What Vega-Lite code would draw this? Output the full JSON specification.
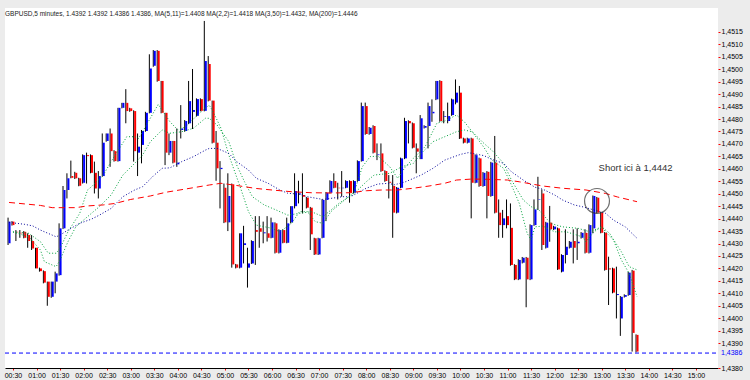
{
"$schema": "https://vega.github.io/schema/vega-lite/v6.json",
"width": 713, "height": 360,
"autosize": {"type": "none"},
"padding": {"left": 5, "top": 8, "right": 32, "bottom": 12},
"background": "#ececec",
"view": {"fill": "#ffffff", "stroke": null},
"config": {"font": "Liberation Sans"},
"title": {"text": "GBPUSD,5 minutes, 1.4392 1.4392 1.4386 1.4386, MA(5,11)=1.4408 MA(2,2)=1.4418 MA(3,50)=1.4432, MA(200)=1.4446", "anchor": "start", "frame": "group", "fontSize": 6.5, "fontWeight": "normal", "color": "#222222", "offset": -9},
"data": {"values": [
{"t":"2010-01-13T00:25","o":1.44301,"h":1.44404,"l":1.44294,"c":1.44388},
{"t":"2010-01-13T00:30","o":1.44388,"h":1.44390,"l":1.44372,"c":1.44374},
{"t":"2010-01-13T00:35","o":1.44347,"h":1.44354,"l":1.44310,"c":1.44345},
{"t":"2010-01-13T00:40","o":1.44343,"h":1.44354,"l":1.44323,"c":1.44341},
{"t":"2010-01-13T00:45","o":1.44347,"h":1.44350,"l":1.44321,"c":1.44323},
{"t":"2010-01-13T00:50","o":1.44334,"h":1.44341,"l":1.44283,"c":1.44310},
{"t":"2010-01-13T00:55","o":1.44310,"h":1.44334,"l":1.44274,"c":1.44280},
{"t":"2010-01-13T01:00","o":1.44283,"h":1.44283,"l":1.44200,"c":1.44200},
{"t":"2010-01-13T01:05","o":1.44200,"h":1.44203,"l":1.44187,"c":1.44189},
{"t":"2010-01-13T01:10","o":1.44189,"h":1.44192,"l":1.44140,"c":1.44143},
{"t":"2010-01-13T01:15","o":1.44147,"h":1.44147,"l":1.44050,"c":1.44086},
{"t":"2010-01-13T01:20","o":1.44086,"h":1.44147,"l":1.44082,"c":1.44147},
{"t":"2010-01-13T01:25","o":1.44147,"h":1.44187,"l":1.44100,"c":1.44180},
{"t":"2010-01-13T01:30","o":1.44173,"h":1.44381,"l":1.44171,"c":1.44361},
{"t":"2010-01-13T01:35","o":1.44361,"h":1.44531,"l":1.44358,"c":1.44515},
{"t":"2010-01-13T01:40","o":1.44515,"h":1.44582,"l":1.44481,"c":1.44562},
{"t":"2010-01-13T01:45","o":1.44571,"h":1.44633,"l":1.44562,"c":1.44564},
{"t":"2010-01-13T01:50","o":1.44584,"h":1.44588,"l":1.44559,"c":1.44562},
{"t":"2010-01-13T01:55","o":1.44562,"h":1.44564,"l":1.44530,"c":1.44532},
{"t":"2010-01-13T02:00","o":1.44544,"h":1.44658,"l":1.44541,"c":1.44655},
{"t":"2010-01-13T02:05","o":1.44655,"h":1.44665,"l":1.44541,"c":1.44651},
{"t":"2010-01-13T02:10","o":1.44655,"h":1.44658,"l":1.44582,"c":1.44584},
{"t":"2010-01-13T02:15","o":1.44584,"h":1.44629,"l":1.44501,"c":1.44521},
{"t":"2010-01-13T02:20","o":1.44521,"h":1.44591,"l":1.44481,"c":1.44571},
{"t":"2010-01-13T02:25","o":1.44571,"h":1.44742,"l":1.44568,"c":1.44705},
{"t":"2010-01-13T02:30","o":1.44712,"h":1.44742,"l":1.44709,"c":1.44742},
{"t":"2010-01-13T02:35","o":1.44742,"h":1.44762,"l":1.44608,"c":1.44671},
{"t":"2010-01-13T02:40","o":1.44671,"h":1.44675,"l":1.44629,"c":1.44631},
{"t":"2010-01-13T02:45","o":1.44631,"h":1.44845,"l":1.44629,"c":1.44845},
{"t":"2010-01-13T02:50","o":1.44845,"h":1.44865,"l":1.44843,"c":1.44865},
{"t":"2010-01-13T02:55","o":1.44865,"h":1.44920,"l":1.44783,"c":1.44832},
{"t":"2010-01-13T03:00","o":1.44843,"h":1.44845,"l":1.44829,"c":1.44832},
{"t":"2010-01-13T03:05","o":1.44832,"h":1.44835,"l":1.44629,"c":1.44671},
{"t":"2010-01-13T03:10","o":1.44665,"h":1.44742,"l":1.44571,"c":1.44689},
{"t":"2010-01-13T03:15","o":1.44696,"h":1.44756,"l":1.44622,"c":1.44752},
{"t":"2010-01-13T03:20","o":1.44752,"h":1.44829,"l":1.44749,"c":1.44825},
{"t":"2010-01-13T03:25","o":1.44825,"h":1.45060,"l":1.44823,"c":1.45003},
{"t":"2010-01-13T03:30","o":1.45014,"h":1.45077,"l":1.45010,"c":1.45074},
{"t":"2010-01-13T03:35","o":1.45074,"h":1.45077,"l":1.44950,"c":1.44953},
{"t":"2010-01-13T03:40","o":1.44953,"h":1.44953,"l":1.44823,"c":1.44825},
{"t":"2010-01-13T03:45","o":1.44825,"h":1.44825,"l":1.44615,"c":1.44665},
{"t":"2010-01-13T03:50","o":1.44665,"h":1.44742,"l":1.44655,"c":1.44712},
{"t":"2010-01-13T03:55","o":1.44712,"h":1.44712,"l":1.44622,"c":1.44625},
{"t":"2010-01-13T04:00","o":1.44618,"h":1.44762,"l":1.44608,"c":1.44625},
{"t":"2010-01-13T04:05","o":1.44756,"h":1.44856,"l":1.44722,"c":1.44762},
{"t":"2010-01-13T04:10","o":1.44752,"h":1.44796,"l":1.44749,"c":1.44792},
{"t":"2010-01-13T04:15","o":1.44783,"h":1.44953,"l":1.44780,"c":1.44872},
{"t":"2010-01-13T04:20","o":1.44829,"h":1.45001,"l":1.44760,"c":1.44836},
{"t":"2010-01-13T04:25","o":1.44813,"h":1.44883,"l":1.44810,"c":1.44880},
{"t":"2010-01-13T04:30","o":1.44880,"h":1.44883,"l":1.44831,"c":1.44833},
{"t":"2010-01-13T04:35","o":1.44833,"h":1.45194,"l":1.44831,"c":1.45033},
{"t":"2010-01-13T04:40","o":1.45021,"h":1.45053,"l":1.44871,"c":1.44874},
{"t":"2010-01-13T04:45","o":1.44874,"h":1.44874,"l":1.44702,"c":1.44705},
{"t":"2010-01-13T04:50","o":1.44705,"h":1.44752,"l":1.44552,"c":1.44602},
{"t":"2010-01-13T04:55","o":1.44599,"h":1.44631,"l":1.44441,"c":1.44604},
{"t":"2010-01-13T05:00","o":1.44524,"h":1.44541,"l":1.44382,"c":1.44385},
{"t":"2010-01-13T05:05","o":1.44385,"h":1.44582,"l":1.44350,"c":1.44491},
{"t":"2010-01-13T05:10","o":1.44538,"h":1.44541,"l":1.44203,"c":1.44216},
{"t":"2010-01-13T05:15","o":1.44216,"h":1.44218,"l":1.44200,"c":1.44203},
{"t":"2010-01-13T05:20","o":1.44203,"h":1.44341,"l":1.44200,"c":1.44341},
{"t":"2010-01-13T05:25","o":1.44294,"h":1.44371,"l":1.44220,"c":1.44301},
{"t":"2010-01-13T05:30","o":1.44203,"h":1.44283,"l":1.44123,"c":1.44220},
{"t":"2010-01-13T05:35","o":1.44220,"h":1.44313,"l":1.44218,"c":1.44310},
{"t":"2010-01-13T05:40","o":1.44354,"h":1.44410,"l":1.44214,"c":1.44347},
{"t":"2010-01-13T05:45","o":1.44361,"h":1.44410,"l":1.44283,"c":1.44347},
{"t":"2010-01-13T05:50","o":1.44341,"h":1.44388,"l":1.44301,"c":1.44345},
{"t":"2010-01-13T05:55","o":1.44341,"h":1.44410,"l":1.44308,"c":1.44323},
{"t":"2010-01-13T06:00","o":1.44323,"h":1.44404,"l":1.44321,"c":1.44385},
{"t":"2010-01-13T06:05","o":1.44381,"h":1.44385,"l":1.44260,"c":1.44263},
{"t":"2010-01-13T06:10","o":1.44263,"h":1.44357,"l":1.44260,"c":1.44354},
{"t":"2010-01-13T06:15","o":1.44354,"h":1.44357,"l":1.44301,"c":1.44303},
{"t":"2010-01-13T06:20","o":1.44303,"h":1.44404,"l":1.44301,"c":1.44381},
{"t":"2010-01-13T06:25","o":1.44385,"h":1.44450,"l":1.44381,"c":1.44450},
{"t":"2010-01-13T06:30","o":1.44450,"h":1.44582,"l":1.44441,"c":1.44511},
{"t":"2010-01-13T06:35","o":1.44497,"h":1.44552,"l":1.44461,"c":1.44501},
{"t":"2010-01-13T06:40","o":1.44495,"h":1.44582,"l":1.44421,"c":1.44488},
{"t":"2010-01-13T06:45","o":1.44484,"h":1.44487,"l":1.44441,"c":1.44444},
{"t":"2010-01-13T06:50","o":1.44444,"h":1.44447,"l":1.44274,"c":1.44337},
{"t":"2010-01-13T06:55","o":1.44321,"h":1.44323,"l":1.44254,"c":1.44256},
{"t":"2010-01-13T07:00","o":1.44256,"h":1.44323,"l":1.44254,"c":1.44321},
{"t":"2010-01-13T07:05","o":1.44323,"h":1.44478,"l":1.44321,"c":1.44475},
{"t":"2010-01-13T07:10","o":1.44475,"h":1.44507,"l":1.44390,"c":1.44504},
{"t":"2010-01-13T07:15","o":1.44504,"h":1.44554,"l":1.44501,"c":1.44551},
{"t":"2010-01-13T07:20","o":1.44551,"h":1.44582,"l":1.44522,"c":1.44524},
{"t":"2010-01-13T07:25","o":1.44524,"h":1.44544,"l":1.44477,"c":1.44522},
{"t":"2010-01-13T07:30","o":1.44522,"h":1.44591,"l":1.44488,"c":1.44524},
{"t":"2010-01-13T07:35","o":1.44524,"h":1.44554,"l":1.44522,"c":1.44551},
{"t":"2010-01-13T07:40","o":1.44551,"h":1.44554,"l":1.44464,"c":1.44504},
{"t":"2010-01-13T07:45","o":1.44504,"h":1.44554,"l":1.44501,"c":1.44551},
{"t":"2010-01-13T07:50","o":1.44551,"h":1.44634,"l":1.44548,"c":1.44631},
{"t":"2010-01-13T07:55","o":1.44631,"h":1.44866,"l":1.44629,"c":1.44852},
{"t":"2010-01-13T08:00","o":1.44852,"h":1.44866,"l":1.44737,"c":1.44740},
{"t":"2010-01-13T08:05","o":1.44740,"h":1.44768,"l":1.44737,"c":1.44765},
{"t":"2010-01-13T08:10","o":1.44772,"h":1.44775,"l":1.44662,"c":1.44665},
{"t":"2010-01-13T08:15","o":1.44655,"h":1.44702,"l":1.44635,"c":1.44658},
{"t":"2010-01-13T08:20","o":1.44662,"h":1.44702,"l":1.44588,"c":1.44591},
{"t":"2010-01-13T08:25","o":1.44591,"h":1.44594,"l":1.44548,"c":1.44551},
{"t":"2010-01-13T08:30","o":1.44548,"h":1.44575,"l":1.44481,"c":1.44544},
{"t":"2010-01-13T08:35","o":1.44531,"h":1.44575,"l":1.44323,"c":1.44424},
{"t":"2010-01-13T08:40","o":1.44424,"h":1.44527,"l":1.44421,"c":1.44524},
{"t":"2010-01-13T08:45","o":1.44524,"h":1.44645,"l":1.44522,"c":1.44642},
{"t":"2010-01-13T08:50","o":1.44642,"h":1.44805,"l":1.44639,"c":1.44792},
{"t":"2010-01-13T08:55","o":1.44792,"h":1.44795,"l":1.44702,"c":1.44783},
{"t":"2010-01-13T09:00","o":1.44783,"h":1.44786,"l":1.44682,"c":1.44685},
{"t":"2010-01-13T09:05","o":1.44682,"h":1.44702,"l":1.44582,"c":1.44669},
{"t":"2010-01-13T09:10","o":1.44639,"h":1.44816,"l":1.44639,"c":1.44803},
{"t":"2010-01-13T09:15","o":1.44765,"h":1.44775,"l":1.44762,"c":1.44772},
{"t":"2010-01-13T09:20","o":1.44772,"h":1.44866,"l":1.44682,"c":1.44852},
{"t":"2010-01-13T09:25","o":1.44823,"h":1.44879,"l":1.44789,"c":1.44829},
{"t":"2010-01-13T09:30","o":1.44879,"h":1.44953,"l":1.44876,"c":1.44953},
{"t":"2010-01-13T09:35","o":1.44953,"h":1.44956,"l":1.44789,"c":1.44792},
{"t":"2010-01-13T09:40","o":1.44809,"h":1.44832,"l":1.44783,"c":1.44812},
{"t":"2010-01-13T09:45","o":1.44792,"h":1.44866,"l":1.44783,"c":1.44812},
{"t":"2010-01-13T09:50","o":1.44816,"h":1.44882,"l":1.44813,"c":1.44879},
{"t":"2010-01-13T09:55","o":1.44866,"h":1.44959,"l":1.44859,"c":1.44906},
{"t":"2010-01-13T10:00","o":1.44906,"h":1.44933,"l":1.44720,"c":1.44722},
{"t":"2010-01-13T10:05","o":1.44722,"h":1.44725,"l":1.44702,"c":1.44705},
{"t":"2010-01-13T10:10","o":1.44705,"h":1.44725,"l":1.44702,"c":1.44722},
{"t":"2010-01-13T10:15","o":1.44722,"h":1.44725,"l":1.44401,"c":1.44544},
{"t":"2010-01-13T10:20","o":1.44544,"h":1.44658,"l":1.44542,"c":1.44655},
{"t":"2010-01-13T10:25","o":1.44642,"h":1.44645,"l":1.44528,"c":1.44531},
{"t":"2010-01-13T10:30","o":1.44531,"h":1.44587,"l":1.44528,"c":1.44584},
{"t":"2010-01-13T10:35","o":1.44588,"h":1.44591,"l":1.44401,"c":1.44491},
{"t":"2010-01-13T10:40","o":1.44491,"h":1.44628,"l":1.44488,"c":1.44625},
{"t":"2010-01-13T10:45","o":1.44625,"h":1.44732,"l":1.44421,"c":1.44424},
{"t":"2010-01-13T10:50","o":1.44424,"h":1.44477,"l":1.44323,"c":1.44374},
{"t":"2010-01-13T10:55","o":1.44374,"h":1.44435,"l":1.44323,"c":1.44401},
{"t":"2010-01-13T11:00","o":1.44410,"h":1.44477,"l":1.44361,"c":1.44374},
{"t":"2010-01-13T11:05","o":1.44363,"h":1.44461,"l":1.44211,"c":1.44214},
{"t":"2010-01-13T11:10","o":1.44214,"h":1.44217,"l":1.44153,"c":1.44156},
{"t":"2010-01-13T11:15","o":1.44156,"h":1.44237,"l":1.44153,"c":1.44234},
{"t":"2010-01-13T11:20","o":1.44223,"h":1.44246,"l":1.44220,"c":1.44243},
{"t":"2010-01-13T11:25","o":1.44243,"h":1.44246,"l":1.44044,"c":1.44156},
{"t":"2010-01-13T11:30","o":1.44156,"h":1.44377,"l":1.44153,"c":1.44374},
{"t":"2010-01-13T11:35","o":1.44374,"h":1.44477,"l":1.44371,"c":1.44437},
{"t":"2010-01-13T11:40","o":1.44475,"h":1.44568,"l":1.44435,"c":1.44477},
{"t":"2010-01-13T11:45","o":1.44501,"h":1.44517,"l":1.44274,"c":1.44294},
{"t":"2010-01-13T11:50","o":1.44283,"h":1.44387,"l":1.44280,"c":1.44384},
{"t":"2010-01-13T11:55","o":1.44384,"h":1.44451,"l":1.44307,"c":1.44357},
{"t":"2010-01-13T12:00","o":1.44357,"h":1.44371,"l":1.44354,"c":1.44368},
{"t":"2010-01-13T12:05","o":1.44361,"h":1.44364,"l":1.44194,"c":1.44196},
{"t":"2010-01-13T12:10","o":1.44187,"h":1.44257,"l":1.44184,"c":1.44254},
{"t":"2010-01-13T12:15","o":1.44254,"h":1.44357,"l":1.44220,"c":1.44287},
{"t":"2010-01-13T12:20","o":1.44283,"h":1.44310,"l":1.44280,"c":1.44307},
{"t":"2010-01-13T12:25","o":1.44310,"h":1.44357,"l":1.44220,"c":1.44283},
{"t":"2010-01-13T12:30","o":1.44301,"h":1.44361,"l":1.44234,"c":1.44307},
{"t":"2010-01-13T12:35","o":1.44323,"h":1.44346,"l":1.44320,"c":1.44343},
{"t":"2010-01-13T12:40","o":1.44343,"h":1.44357,"l":1.44260,"c":1.44263},
{"t":"2010-01-13T12:45","o":1.44263,"h":1.44377,"l":1.44260,"c":1.44374},
{"t":"2010-01-13T12:50","o":1.44361,"h":1.44493,"l":1.44341,"c":1.44491},
{"t":"2010-01-13T12:55","o":1.44484,"h":1.44487,"l":1.44421,"c":1.44424},
{"t":"2010-01-13T13:00","o":1.44424,"h":1.44427,"l":1.44341,"c":1.44343},
{"t":"2010-01-13T13:05","o":1.44343,"h":1.44346,"l":1.44191,"c":1.44194},
{"t":"2010-01-13T13:10","o":1.44200,"h":1.44247,"l":1.44053,"c":1.44196},
{"t":"2010-01-13T13:15","o":1.44200,"h":1.44203,"l":1.44100,"c":1.44103},
{"t":"2010-01-13T13:20","o":1.44093,"h":1.44207,"l":1.43999,"c":1.44097},
{"t":"2010-01-13T13:25","o":1.43999,"h":1.44089,"l":1.43929,"c":1.44086},
{"t":"2010-01-13T13:30","o":1.44086,"h":1.44096,"l":1.44083,"c":1.44093},
{"t":"2010-01-13T13:35","o":1.44093,"h":1.44186,"l":1.44090,"c":1.44183},
{"t":"2010-01-13T13:40","o":1.44191,"h":1.44194,"l":1.43866,"c":1.43941},
{"t":"2010-01-13T13:45","o":1.43933,"h":1.43935,"l":1.43863,"c":1.43866}
]},
"encoding": {
  "x": {"field": "t", "type": "temporal", "scale": {"nice": false, "padding": 0},
    "axis": {"format": "%H:%M", "tickCount": 30, "labelFontSize": 7, "labelColor": "#000000", "tickColor": "#ff0000", "tickSize": 2, "domainColor": "#000000", "grid": false, "title": null, "labelPadding": 1, "labelOverlap": false, "labelFlush": false}}
},
"layer": [
  {"mark": {"type": "rule", "color": "#000000", "strokeWidth": 1, "xOffset": -1},
   "encoding": {
     "y": {"field": "l", "type": "quantitative", "scale": {"domain": [1.438, 1.45246], "zero": false, "nice": false},
       "axis": {"orient": "right", "values": [1.438,1.439,1.4395,1.44,1.4405,1.441,1.4415,1.442,1.4425,1.443,1.4435,1.444,1.4445,1.445,1.4455,1.446,1.4465,1.447,1.4475,1.448,1.4485,1.449,1.4495,1.45,1.4505,1.451,1.4515], "labelExpr": "replace(format(datum.value, '.4f'), '.', ',')", "labelFontSize": 7, "tickColor": "#ff0000", "tickSize": 2, "domain": false, "grid": false, "title": null, "labelPadding": 1, "labelOverlap": false}},
     "y2": {"field": "h"}}},
  {"mark": {"type": "bar", "width": 2, "xOffset": 0.5},
   "encoding": {
     "y": {"field": "o", "type": "quantitative", "scale": {"domain": [1.438, 1.45246], "zero": false, "nice": false},
       "axis": {"orient": "right", "values": [1.438,1.439,1.4395,1.44,1.4405,1.441,1.4415,1.442,1.4425,1.443,1.4435,1.444,1.4445,1.445,1.4455,1.446,1.4465,1.447,1.4475,1.448,1.4485,1.449,1.4495,1.45,1.4505,1.451,1.4515], "labelExpr": "replace(format(datum.value, '.4f'), '.', ',')", "labelFontSize": 7, "tickColor": "#ff0000", "tickSize": 2, "domain": false, "grid": false, "title": null, "labelPadding": 1, "labelOverlap": false}},
     "y2": {"field": "c"},
     "color": {"condition": {"test": "datum.c >= datum.o", "value": "#0000ff"}, "value": "#ff0000"}}},
  {"data": {"values": [
    {"t":"2010-01-13T00:30","v":1.44347},{"t":"2010-01-13T00:50","v":1.44341},{"t":"2010-01-13T01:05","v":1.44307},{"t":"2010-01-13T01:15","v":1.44261},{"t":"2010-01-13T01:25","v":1.44261},{"t":"2010-01-13T01:30","v":1.44281},{"t":"2010-01-13T01:40","v":1.44347},{"t":"2010-01-13T01:55","v":1.44421},{"t":"2010-01-13T02:05","v":1.44515},{"t":"2010-01-13T02:10","v":1.44528},{"t":"2010-01-13T02:25","v":1.44575},{"t":"2010-01-13T02:35","v":1.44629},{"t":"2010-01-13T02:55","v":1.44729},{"t":"2010-01-13T03:05","v":1.44729},{"t":"2010-01-13T03:10","v":1.44722},{"t":"2010-01-13T03:20","v":1.44776},{"t":"2010-01-13T03:35","v":1.44859},{"t":"2010-01-13T03:50","v":1.44789},{"t":"2010-01-13T04:00","v":1.44756},{"t":"2010-01-13T04:10","v":1.44769},{"t":"2010-01-13T04:25","v":1.44816},{"t":"2010-01-13T04:40","v":1.44856},{"t":"2010-01-13T04:45","v":1.44829},{"t":"2010-01-13T04:55","v":1.44763},{"t":"2010-01-13T05:05","v":1.44655},{"t":"2010-01-13T05:20","v":1.44522},{"t":"2010-01-13T05:30","v":1.44428},{"t":"2010-01-13T05:40","v":1.44374},{"t":"2010-01-13T06:00","v":1.44361},{"t":"2010-01-13T06:10","v":1.44347},{"t":"2010-01-13T06:25","v":1.44381},{"t":"2010-01-13T06:35","v":1.44428},{"t":"2010-01-13T06:45","v":1.44428},{"t":"2010-01-13T06:55","v":1.44388},{"t":"2010-01-13T07:05","v":1.44381},{"t":"2010-01-13T07:15","v":1.44428},{"t":"2010-01-13T07:30","v":1.44468},{"t":"2010-01-13T07:45","v":1.44508},{"t":"2010-01-13T07:55","v":1.44608},{"t":"2010-01-13T08:05","v":1.44649},{"t":"2010-01-13T08:15","v":1.44651},{"t":"2010-01-13T08:30","v":1.44608},{"t":"2010-01-13T08:40","v":1.44562},{"t":"2010-01-13T08:50","v":1.44608},{"t":"2010-01-13T09:00","v":1.44642},{"t":"2010-01-13T09:15","v":1.44689},{"t":"2010-01-13T09:30","v":1.44783},{"t":"2010-01-13T09:40","v":1.44792},{"t":"2010-01-13T09:55","v":1.44816},{"t":"2010-01-13T10:05","v":1.44789},{"t":"2010-01-13T10:15","v":1.44749},{"t":"2010-01-13T10:30","v":1.44686},{"t":"2010-01-13T10:40","v":1.44635},{"t":"2010-01-13T10:55","v":1.44602},{"t":"2010-01-13T11:05","v":1.44535},{"t":"2010-01-13T11:15","v":1.44461},{"t":"2010-01-13T11:25","v":1.44341},{"t":"2010-01-13T11:30","v":1.44314},{"t":"2010-01-13T11:35","v":1.44367},{"t":"2010-01-13T11:45","v":1.44370},{"t":"2010-01-13T12:00","v":1.44347},{"t":"2010-01-13T12:15","v":1.44347},{"t":"2010-01-13T12:35","v":1.44327},{"t":"2010-01-13T12:40","v":1.44307},{"t":"2010-01-13T12:50","v":1.44347},{"t":"2010-01-13T13:00","v":1.44367},{"t":"2010-01-13T13:05","v":1.44347},{"t":"2010-01-13T13:15","v":1.44314},{"t":"2010-01-13T13:25","v":1.44234},{"t":"2010-01-13T13:35","v":1.44180},{"t":"2010-01-13T13:45","v":1.44086}
   ]},
   "mark": {"type": "line", "color": "#00a03c", "strokeWidth": 1, "strokeDash": [1, 2]},
   "encoding": {"y": {"field": "v", "type": "quantitative", "scale": {"domain": [1.438, 1.45246], "zero": false, "nice": false},
       "axis": {"orient": "right", "values": [1.438,1.439,1.4395,1.44,1.4405,1.441,1.4415,1.442,1.4425,1.443,1.4435,1.444,1.4445,1.445,1.4455,1.446,1.4465,1.447,1.4475,1.448,1.4485,1.449,1.4495,1.45,1.4505,1.451,1.4515], "labelExpr": "replace(format(datum.value, '.4f'), '.', ',')", "labelFontSize": 7, "tickColor": "#ff0000", "tickSize": 2, "domain": false, "grid": false, "title": null, "labelPadding": 1, "labelOverlap": false}}}},
  {"data": {"values": [
    {"t":"2010-01-13T00:30","v":1.44346},{"t":"2010-01-13T00:50","v":1.44327},{"t":"2010-01-13T01:05","v":1.44274},{"t":"2010-01-13T01:10","v":1.44227},{"t":"2010-01-13T01:25","v":1.44207},{"t":"2010-01-13T01:30","v":1.44234},{"t":"2010-01-13T01:40","v":1.44307},{"t":"2010-01-13T01:50","v":1.44367},{"t":"2010-01-13T02:05","v":1.44408},{"t":"2010-01-13T02:20","v":1.44448},{"t":"2010-01-13T02:35","v":1.44495},{"t":"2010-01-13T02:50","v":1.44575},{"t":"2010-01-13T03:05","v":1.44622},{"t":"2010-01-13T03:15","v":1.44655},{"t":"2010-01-13T03:25","v":1.44709},{"t":"2010-01-13T03:40","v":1.44756},{"t":"2010-01-13T03:50","v":1.44743},{"t":"2010-01-13T04:05","v":1.44749},{"t":"2010-01-13T04:20","v":1.44763},{"t":"2010-01-13T04:35","v":1.44803},{"t":"2010-01-13T04:40","v":1.44803},{"t":"2010-01-13T04:50","v":1.44776},{"t":"2010-01-13T05:05","v":1.44709},{"t":"2010-01-13T05:15","v":1.44615},{"t":"2010-01-13T05:25","v":1.44548},{"t":"2010-01-13T05:35","v":1.44488},{"t":"2010-01-13T05:50","v":1.44455},{"t":"2010-01-13T06:05","v":1.44435},{"t":"2010-01-13T06:20","v":1.44414},{"t":"2010-01-13T06:35","v":1.44421},{"t":"2010-01-13T06:50","v":1.44428},{"t":"2010-01-13T07:05","v":1.44408},{"t":"2010-01-13T07:25","v":1.44461},{"t":"2010-01-13T07:45","v":1.44502},{"t":"2010-01-13T08:00","v":1.44548},{"t":"2010-01-13T08:10","v":1.44575},{"t":"2010-01-13T08:30","v":1.44582},{"t":"2010-01-13T08:45","v":1.44608},{"t":"2010-01-13T09:00","v":1.44622},{"t":"2010-01-13T09:10","v":1.44662},{"t":"2010-01-13T09:25","v":1.44709},{"t":"2010-01-13T09:40","v":1.44729},{"t":"2010-01-13T09:55","v":1.44749},{"t":"2010-01-13T10:05","v":1.44756},{"t":"2010-01-13T10:15","v":1.44749},{"t":"2010-01-13T10:30","v":1.44702},{"t":"2010-01-13T10:40","v":1.44675},{"t":"2010-01-13T10:55","v":1.44622},{"t":"2010-01-13T11:05","v":1.44555},{"t":"2010-01-13T11:20","v":1.44475},{"t":"2010-01-13T11:30","v":1.44448},{"t":"2010-01-13T11:40","v":1.44435},{"t":"2010-01-13T11:55","v":1.44381},{"t":"2010-01-13T12:10","v":1.44367},{"t":"2010-01-13T12:30","v":1.44361},{"t":"2010-01-13T12:45","v":1.44347},{"t":"2010-01-13T13:00","v":1.44367},{"t":"2010-01-13T13:10","v":1.44341},{"t":"2010-01-13T13:25","v":1.44267},{"t":"2010-01-13T13:35","v":1.44207},{"t":"2010-01-13T13:45","v":1.44194}
   ]},
   "mark": {"type": "line", "color": "#00a03c", "strokeWidth": 1, "strokeDash": [1, 2]},
   "encoding": {"y": {"field": "v", "type": "quantitative", "scale": {"domain": [1.438, 1.45246], "zero": false, "nice": false},
       "axis": {"orient": "right", "values": [1.438,1.439,1.4395,1.44,1.4405,1.441,1.4415,1.442,1.4425,1.443,1.4435,1.444,1.4445,1.445,1.4455,1.446,1.4465,1.447,1.4475,1.448,1.4485,1.449,1.4495,1.45,1.4505,1.451,1.4515], "labelExpr": "replace(format(datum.value, '.4f'), '.', ',')", "labelFontSize": 7, "tickColor": "#ff0000", "tickSize": 2, "domain": false, "grid": false, "title": null, "labelPadding": 1, "labelOverlap": false}}}},
  {"data": {"values": [
    {"t":"2010-01-13T00:25","v":1.44385},{"t":"2010-01-13T00:45","v":1.44377},{"t":"2010-01-13T00:55","v":1.44371},{"t":"2010-01-13T01:05","v":1.44354},{"t":"2010-01-13T01:25","v":1.44327},{"t":"2010-01-13T01:30","v":1.44334},{"t":"2010-01-13T01:40","v":1.44354},{"t":"2010-01-13T01:55","v":1.44381},{"t":"2010-01-13T02:10","v":1.44398},{"t":"2010-01-13T02:20","v":1.44414},{"t":"2010-01-13T02:35","v":1.44441},{"t":"2010-01-13T02:50","v":1.44488},{"t":"2010-01-13T03:05","v":1.44515},{"t":"2010-01-13T03:15","v":1.44528},{"t":"2010-01-13T03:30","v":1.44575},{"t":"2010-01-13T03:40","v":1.44602},{"t":"2010-01-13T03:50","v":1.44604},{"t":"2010-01-13T04:05","v":1.44629},{"t":"2010-01-13T04:20","v":1.44649},{"t":"2010-01-13T04:35","v":1.44675},{"t":"2010-01-13T04:40","v":1.44682},{"t":"2010-01-13T04:50","v":1.44682},{"t":"2010-01-13T05:05","v":1.44662},{"t":"2010-01-13T05:15","v":1.44629},{"t":"2010-01-13T05:30","v":1.44595},{"t":"2010-01-13T05:40","v":1.44562},{"t":"2010-01-13T05:55","v":1.44542},{"t":"2010-01-13T06:10","v":1.44515},{"t":"2010-01-13T06:20","v":1.44502},{"t":"2010-01-13T06:35","v":1.44498},{"t":"2010-01-13T06:45","v":1.44488},{"t":"2010-01-13T07:05","v":1.44477},{"t":"2010-01-13T07:30","v":1.44488},{"t":"2010-01-13T07:40","v":1.44488},{"t":"2010-01-13T08:00","v":1.44522},{"t":"2010-01-13T08:15","v":1.44539},{"t":"2010-01-13T08:30","v":1.44542},{"t":"2010-01-13T08:35","v":1.44535},{"t":"2010-01-13T08:50","v":1.44548},{"t":"2010-01-13T09:10","v":1.44575},{"t":"2010-01-13T09:25","v":1.44602},{"t":"2010-01-13T09:40","v":1.44635},{"t":"2010-01-13T10:00","v":1.44658},{"t":"2010-01-13T10:10","v":1.44665},{"t":"2010-01-13T10:30","v":1.44653},{"t":"2010-01-13T10:40","v":1.44638},{"t":"2010-01-13T10:55","v":1.44622},{"t":"2010-01-13T11:05","v":1.44588},{"t":"2010-01-13T11:20","v":1.44555},{"t":"2010-01-13T11:35","v":1.44526},{"t":"2010-01-13T11:45","v":1.44518},{"t":"2010-01-13T12:00","v":1.44495},{"t":"2010-01-13T12:10","v":1.44475},{"t":"2010-01-13T12:25","v":1.44455},{"t":"2010-01-13T12:35","v":1.44448},{"t":"2010-01-13T12:50","v":1.44435},{"t":"2010-01-13T13:05","v":1.44421},{"t":"2010-01-13T13:15","v":1.44394},{"t":"2010-01-13T13:30","v":1.44367},{"t":"2010-01-13T13:45","v":1.44321}
   ]},
   "mark": {"type": "line", "color": "#000099", "strokeWidth": 1, "strokeDash": [1, 2]},
   "encoding": {"y": {"field": "v", "type": "quantitative", "scale": {"domain": [1.438, 1.45246], "zero": false, "nice": false},
       "axis": {"orient": "right", "values": [1.438,1.439,1.4395,1.44,1.4405,1.441,1.4415,1.442,1.4425,1.443,1.4435,1.444,1.4445,1.445,1.4455,1.446,1.4465,1.447,1.4475,1.448,1.4485,1.449,1.4495,1.45,1.4505,1.451,1.4515], "labelExpr": "replace(format(datum.value, '.4f'), '.', ',')", "labelFontSize": 7, "tickColor": "#ff0000", "tickSize": 2, "domain": false, "grid": false, "title": null, "labelPadding": 1, "labelOverlap": false}}}},
  {"data": {"values": [
    {"t":"2010-01-13T00:25","v":1.44465},{"t":"2010-01-13T00:45","v":1.44459},{"t":"2010-01-13T01:05","v":1.44453},{"t":"2010-01-13T01:20","v":1.44444},{"t":"2010-01-13T01:50","v":1.44444},{"t":"2010-01-13T02:05","v":1.44451},{"t":"2010-01-13T02:25","v":1.44455},{"t":"2010-01-13T02:40","v":1.44461},{"t":"2010-01-13T03:00","v":1.44477},{"t":"2010-01-13T03:25","v":1.44491},{"t":"2010-01-13T03:45","v":1.44506},{"t":"2010-01-13T04:10","v":1.44519},{"t":"2010-01-13T04:40","v":1.44535},{"t":"2010-01-13T04:55","v":1.44542},{"t":"2010-01-13T05:15","v":1.44533},{"t":"2010-01-13T05:40","v":1.44521},{"t":"2010-01-13T06:00","v":1.44515},{"t":"2010-01-13T06:25","v":1.44508},{"t":"2010-01-13T06:50","v":1.44504},{"t":"2010-01-13T07:15","v":1.44503},{"t":"2010-01-13T07:40","v":1.44504},{"t":"2010-01-13T08:00","v":1.44512},{"t":"2010-01-13T08:20","v":1.44515},{"t":"2010-01-13T08:40","v":1.44515},{"t":"2010-01-13T09:00","v":1.44522},{"t":"2010-01-13T09:20","v":1.44531},{"t":"2010-01-13T09:40","v":1.44542},{"t":"2010-01-13T09:55","v":1.44555},{"t":"2010-01-13T10:15","v":1.44559},{"t":"2010-01-13T10:35","v":1.44558},{"t":"2010-01-13T11:00","v":1.44555},{"t":"2010-01-13T11:15","v":1.44548},{"t":"2010-01-13T11:45","v":1.44531},{"t":"2010-01-13T12:10","v":1.44522},{"t":"2010-01-13T12:40","v":1.44515},{"t":"2010-01-13T13:05","v":1.44501},{"t":"2010-01-13T13:20","v":1.44487},{"t":"2010-01-13T13:45","v":1.44468}
   ]},
   "mark": {"type": "line", "color": "#ff0000", "strokeWidth": 1, "strokeDash": [6, 4]},
   "encoding": {"y": {"field": "v", "type": "quantitative", "scale": {"domain": [1.438, 1.45246], "zero": false, "nice": false},
       "axis": {"orient": "right", "values": [1.438,1.439,1.4395,1.44,1.4405,1.441,1.4415,1.442,1.4425,1.443,1.4435,1.444,1.4445,1.445,1.4455,1.446,1.4465,1.447,1.4475,1.448,1.4485,1.449,1.4495,1.45,1.4505,1.451,1.4515], "labelExpr": "replace(format(datum.value, '.4f'), '.', ',')", "labelFontSize": 7, "tickColor": "#ff0000", "tickSize": 2, "domain": false, "grid": false, "title": null, "labelPadding": 1, "labelOverlap": false}}}},
  {"data": {"values": [{"t": "2010-01-13T00:19:50", "v": 1.4386}, {"t": "2010-01-13T15:28:08", "v": 1.4386}]},
   "mark": {"type": "line", "color": "#0000ff", "strokeWidth": 1, "strokeDash": [4, 3]},
   "encoding": {"y": {"field": "v", "type": "quantitative", "scale": {"domain": [1.438, 1.45246], "zero": false, "nice": false},
       "axis": {"orient": "right", "values": [1.438,1.439,1.4395,1.44,1.4405,1.441,1.4415,1.442,1.4425,1.443,1.4435,1.444,1.4445,1.445,1.4455,1.446,1.4465,1.447,1.4475,1.448,1.4485,1.449,1.4495,1.45,1.4505,1.451,1.4515], "labelExpr": "replace(format(datum.value, '.4f'), '.', ',')", "labelFontSize": 7, "tickColor": "#ff0000", "tickSize": 2, "domain": false, "grid": false, "title": null, "labelPadding": 1, "labelOverlap": false}}}},
  {"data": {"values": [{"t": "2010-01-13T15:28:08", "v": 1.4386, "label": "1,4386"}]},
   "mark": {"type": "text", "align": "left", "baseline": "middle", "dx": 3, "fontSize": 7, "color": "#0000ff"},
   "encoding": {"y": {"field": "v", "type": "quantitative", "scale": {"domain": [1.438, 1.45246], "zero": false, "nice": false},
       "axis": {"orient": "right", "values": [1.438,1.439,1.4395,1.44,1.4405,1.441,1.4415,1.442,1.4425,1.443,1.4435,1.444,1.4445,1.445,1.4455,1.446,1.4465,1.447,1.4475,1.448,1.4485,1.449,1.4495,1.45,1.4505,1.451,1.4515], "labelExpr": "replace(format(datum.value, '.4f'), '.', ',')", "labelFontSize": 7, "tickColor": "#ff0000", "tickSize": 2, "domain": false, "grid": false, "title": null, "labelPadding": 1, "labelOverlap": false}}, "text": {"field": "label"}}},
  {"data": {"values": [{"t": "2010-01-13T12:54", "price": 1.44471}]},
   "mark": {"type": "point", "shape": "circle", "size": 620, "filled": false, "stroke": "#333333", "strokeWidth": 1.2},
   "encoding": {"y": {"field": "price", "type": "quantitative", "scale": {"domain": [1.438, 1.45246], "zero": false, "nice": false},
       "axis": {"orient": "right", "values": [1.438,1.439,1.4395,1.44,1.4405,1.441,1.4415,1.442,1.4425,1.443,1.4435,1.444,1.4445,1.445,1.4455,1.446,1.4465,1.447,1.4475,1.448,1.4485,1.449,1.4495,1.45,1.4505,1.451,1.4515], "labelExpr": "replace(format(datum.value, '.4f'), '.', ',')", "labelFontSize": 7, "tickColor": "#ff0000", "tickSize": 2, "domain": false, "grid": false, "title": null, "labelPadding": 1, "labelOverlap": false}}}},
  {"data": {"values": [{"t": "2010-01-13T12:56", "price": 1.44603, "label": "Short ici à 1,4442"}]},
   "mark": {"type": "text", "align": "left", "baseline": "middle", "fontSize": 9.5, "color": "#333333"},
   "encoding": {"y": {"field": "price", "type": "quantitative", "scale": {"domain": [1.438, 1.45246], "zero": false, "nice": false},
       "axis": {"orient": "right", "values": [1.438,1.439,1.4395,1.44,1.4405,1.441,1.4415,1.442,1.4425,1.443,1.4435,1.444,1.4445,1.445,1.4455,1.446,1.4465,1.447,1.4475,1.448,1.4485,1.449,1.4495,1.45,1.4505,1.451,1.4515], "labelExpr": "replace(format(datum.value, '.4f'), '.', ',')", "labelFontSize": 7, "tickColor": "#ff0000", "tickSize": 2, "domain": false, "grid": false, "title": null, "labelPadding": 1, "labelOverlap": false}}, "text": {"field": "label"}}}
]
}
